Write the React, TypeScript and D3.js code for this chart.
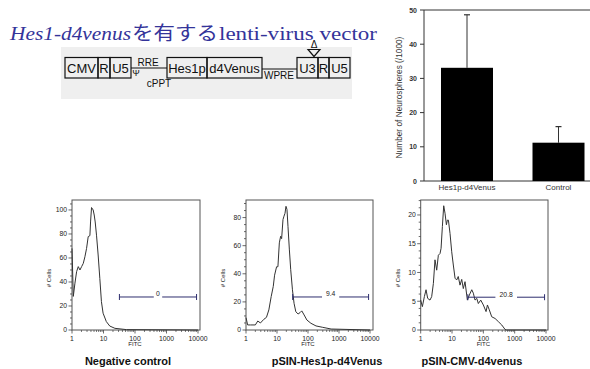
import React, { useRef, useEffect } from 'react';
import * as d3 from 'd3';

const W = 590;
const H = 369;

// neurosphere bar chart
const barCategories = ['Hes1p-d4Venus', 'Control'];
const barMeans = [33.1, 11.2];
const barErrors = [15.5, 4.7];
const barTicks = [0, 10, 20, 30, 40, 50];

// vector map
const vectorLeft = ['CMV', 'R', 'U5'];
const vectorMiddle = ['Hes1p', 'd4Venus'];
const vectorRight = ['U3', 'R', 'U5'];

// flow cytometry histograms
const panelTitles = ['Negative control', 'pSIN-Hes1p-d4Venus', 'pSIN-CMV-d4venus'];
const gateLabels = ['0', '9.4', '20.8'];
const gateLevels = [27.5, 23.5, 5.7];
const gateRange = [32, 9000];
const fitcTicks = [1, 10, 100, 1000, 10000];
const yTicksNeg = [0, 20, 40, 60, 80, 100];
const yTicksHes = [0, 20, 40, 60, 80];
const yTicksCmv = [0, 5, 10, 15, 20];

const negFitc = [1, 1.1, 1.24, 1.4, 1.58, 1.79, 2.02, 2.28, 2.57, 2.9, 3.27, 3.7, 3.88, 4.17, 4.7, 5.07, 5.45, 6.0, 6.76, 7.64, 8.6, 9.7, 12.3, 15.8, 23, 54, 10000];
const negCounts = [68, 28, 39, 48.6, 52.8, 50, 52.8, 55.5, 61, 68, 77.8, 78.6, 90, 102, 100, 95.8, 90, 79, 62.5, 43, 23.6, 14, 7, 3.3, 1.4, 0.3, 0];

const hesFitc = [1, 1.13, 1.38, 2.0, 2.4, 2.92, 3.76, 4.57, 5.46, 6.5, 7.57, 8.36, 9.7, 10.7, 11.9, 13.1, 14.1, 15.6, 16.8, 18.1, 19.5, 21, 22.6, 25.1, 27.7, 31.5, 35.5, 40.4, 47.9, 55.6, 63, 75, 92, 124, 181, 299, 557, 10000];
const hesCounts = [8.8, 3.6, 3.6, 3.6, 6.4, 5, 7.6, 9, 14.3, 23.8, 31, 39, 45, 45, 62, 66.7, 65, 78.6, 81, 83, 88, 85.7, 73.8, 57, 42.9, 28.6, 19, 13, 11.4, 12.4, 13.6, 10.7, 7.1, 4.8, 2.9, 1.9, 0.7, 0];

const cmvFitc = [1, 1.13, 1.31, 1.48, 1.67, 1.98, 2.24, 2.54, 2.86, 3.24, 3.66, 4.14, 4.47, 4.92, 5.43, 5.98, 6.61, 7.11, 7.66, 8.63, 9.77, 11.0, 12.5, 14.1, 15.8, 18.0, 20.4, 22.9, 26.0, 30.9, 35.8, 42.7, 47.9, 54.3, 61.7, 69.2, 82.6, 100, 122, 135, 155, 185, 237, 302, 387, 493, 558, 10000];
const cmvCounts = [5.2, 4.06, 5.8, 7, 5.5, 5.2, 5.8, 8.1, 12.2, 10.4, 13, 13.3, 14.2, 18, 21.6, 20.3, 18.3, 19.1, 19.1, 16.8, 13.6, 11.3, 9, 8.7, 9.3, 7.8, 8.8, 7.2, 8.4, 5.2, 6.1, 7, 6.4, 5.2, 5.5, 4.6, 5.2, 4.35, 3.2, 4.35, 3.5, 2.3, 2.0, 1.45, 0.87, 0.1, 0, 0];

const histLayout = [
  { left: 72, right: 198, frameRight: 200, yMax: 108.3, ticks: yTicksNeg, fitc: negFitc, counts: negCounts, titleX: 128 },
  { left: 246, right: 370, frameRight: 373, yMax: 92.5, ticks: yTicksHes, fitc: hesFitc, counts: hesCounts, titleX: 327 },
  { left: 420.7, right: 546, frameRight: 548, yMax: 22.6, ticks: yTicksCmv, fitc: cmvFitc, counts: cmvCounts, titleX: 472 },
];

const sans = 'Liberation Sans, Arial, sans-serif';

const App: React.FC = () => {
  const svgRef = useRef<SVGSVGElement | null>(null);

  useEffect(() => {
    if (!svgRef.current) return;
    const svg = d3.select(svgRef.current);
    svg.selectAll('*').remove();

    svg.append('rect').attr('width', W).attr('height', H).attr('fill', '#fff');

    // ---- title ----
    const titleColor = '#34349a';
    const title = svg.append('g').attr('fill', titleColor);
    title.append('text').attr('x', 10).attr('y', 39.5)
      .attr('font-family', 'Liberation Serif, serif').attr('font-style', 'italic').attr('font-size', 18)
      .attr('textLength', 121).attr('lengthAdjust', 'spacingAndGlyphs').text('Hes1-d4venus');
    title.append('text').attr('x', 132).attr('y', 40)
      .attr('font-family', 'Noto Sans CJK JP, sans-serif').attr('font-size', 19)
      .attr('textLength', 86).attr('lengthAdjust', 'spacingAndGlyphs').text('を有する');
    title.append('text').attr('x', 219).attr('y', 39.5)
      .attr('font-family', 'Liberation Serif, serif').attr('font-size', 18)
      .attr('textLength', 158).attr('lengthAdjust', 'spacingAndGlyphs').text('lenti-virus vector');

    // ---- vector map ----
    const vec = svg.append('g');
    vec.append('rect').attr('x', 61).attr('y', 47).attr('width', 291).attr('height', 52).attr('fill', '#efefef');
    const boxTop = 57.5;
    const boxH = 20.5;
    const lineY = 68;
    const drawBoxes = (labels: string[], edges: number[]) => {
      labels.forEach((lab, i) => {
        const x0 = edges[i];
        const x1 = edges[i + 1];
        vec.append('rect').attr('x', x0).attr('y', boxTop).attr('width', x1 - x0).attr('height', boxH)
          .attr('fill', 'none').attr('stroke', '#111').attr('stroke-width', 1.2);
        vec.append('text').attr('x', (x0 + x1) / 2).attr('y', boxTop + 15.2)
          .attr('text-anchor', 'middle').attr('font-family', sans).attr('font-size', 13)
          .attr('fill', '#111').text(lab);
      });
    };
    drawBoxes(vectorLeft, [65, 98, 110, 131]);
    drawBoxes(vectorMiddle, [167, 207, 262]);
    drawBoxes(vectorRight, [297, 318, 329, 350]);
    vec.append('line').attr('x1', 131).attr('x2', 167).attr('y1', lineY).attr('y2', lineY).attr('stroke', '#111').attr('stroke-width', 1.2);
    vec.append('line').attr('x1', 262).attr('x2', 297).attr('y1', lineY + 1).attr('y2', lineY + 1).attr('stroke', '#111').attr('stroke-width', 1.2);
    const small = (t: string, x: number, y: number, fs = 10) =>
      vec.append('text').attr('x', x).attr('y', y).attr('text-anchor', 'middle')
        .attr('font-family', sans).attr('font-size', fs).attr('fill', '#111').text(t);
    small('RRE', 148, 65.5);
    small('Ψ', 136, 76, 9);
    small('cPPT', 159, 87);
    small('WPRE', 279, 78.5);
    small('Δ', 314, 47.5, 10);
    vec.append('path').attr('d', 'M308,49.5 L320,49.5 L314,56.5 Z')
      .attr('fill', 'none').attr('stroke', '#111').attr('stroke-width', 1.2);

    // ---- bar chart ----
    const bx0 = 424;
    const by = d3.scaleLinear().domain([0, 50]).range([181, 10]);
    const bx = d3.scalePoint<string>().domain(barCategories).range([467, 558.5]);
    const barW = 52;
    const bar = svg.append('g').attr('font-family', sans).attr('fill', '#333');
    bar.append('line').attr('x1', bx0).attr('x2', W).attr('y1', by(50)).attr('y2', by(50)).attr('stroke', '#333');
    bar.append('line').attr('x1', bx0).attr('x2', W).attr('y1', by(0)).attr('y2', by(0)).attr('stroke', '#333');
    bar.append('line').attr('x1', bx0).attr('x2', bx0).attr('y1', by(0)).attr('y2', by(50)).attr('stroke', '#333');
    barTicks.forEach(t => {
      bar.append('line').attr('x1', bx0 - 4).attr('x2', bx0).attr('y1', by(t)).attr('y2', by(t)).attr('stroke', '#333');
      bar.append('text').attr('x', bx0 - 7).attr('y', by(t) + 2.5).attr('text-anchor', 'end')
        .attr('font-size', 7).attr('font-weight', 'bold').text(t);
    });
    barCategories.forEach((c, i) => {
      const cx = bx(c)!;
      const top = by(barMeans[i] + barErrors[i]);
      bar.append('line').attr('x1', cx).attr('x2', cx).attr('y1', by(barMeans[i])).attr('y2', top).attr('stroke', '#333');
      bar.append('line').attr('x1', cx - 3).attr('x2', cx + 3).attr('y1', top).attr('y2', top).attr('stroke', '#333').attr('stroke-width', 1.2);
      bar.append('rect').attr('x', cx - barW / 2).attr('y', by(barMeans[i])).attr('width', barW)
        .attr('height', by(0) - by(barMeans[i])).attr('fill', '#000');
      bar.append('text').attr('x', cx).attr('y', 190).attr('text-anchor', 'middle').attr('font-size', 8).text(c);
    });
    bar.append('text').attr('transform', `translate(402,${(by(0) + by(50)) / 2 + 2}) rotate(-90)`)
      .attr('text-anchor', 'middle').attr('font-size', 8.3).text('Number of Neurospheres (/1000)');

    // ---- histograms ----
    const hBottom = 330;
    const hTop = 200;
    histLayout.forEach((p, i) => {
      const g = svg.append('g').attr('font-family', sans).attr('fill', '#222');
      const x = d3.scaleLog().domain([1, 10000]).range([p.left, p.right]);
      const y = d3.scaleLinear().domain([0, p.yMax]).range([hBottom, hTop]);

      g.append('rect').attr('x', p.left).attr('y', hTop).attr('width', p.frameRight - p.left).attr('height', hBottom - hTop)
        .attr('fill', 'none').attr('stroke', '#555').attr('stroke-width', 1);

      // y ticks
      const step = p.ticks[1] - p.ticks[0];
      for (let v = 0; v <= p.yMax; v += step / 4) {
        const major = Math.abs(v / step - Math.round(v / step)) < 1e-6;
        g.append('line').attr('x1', p.left - (major ? 3.5 : 2)).attr('x2', p.left).attr('y1', y(v)).attr('y2', y(v)).attr('stroke', '#444').attr('stroke-width', 0.8);
      }
      p.ticks.forEach(t => {
        g.append('text').attr('x', p.left - 5).attr('y', y(t) + 2.3).attr('text-anchor', 'end').attr('font-size', 6.8).text(t);
      });

      // x ticks
      fitcTicks.forEach((t, k) => {
        g.append('line').attr('x1', x(t)).attr('x2', x(t)).attr('y1', hBottom).attr('y2', hBottom + 3.5).attr('stroke', '#444').attr('stroke-width', 0.8);
        g.append('text').attr('x', x(t)).attr('y', hBottom + 11).attr('text-anchor', 'middle').attr('font-size', 6.8).text(t);
        if (k < fitcTicks.length - 1) {
          for (let m = 2; m <= 9; m++) {
            g.append('line').attr('x1', x(t * m)).attr('x2', x(t * m)).attr('y1', hBottom).attr('y2', hBottom + 2).attr('stroke', '#444').attr('stroke-width', 0.7);
          }
        }
      });
      g.append('text').attr('x', x(100)).attr('y', hBottom + 16).attr('text-anchor', 'middle').attr('font-size', 6).text('FITC');
      g.append('text').attr('transform', `translate(${p.left - 21},278) rotate(-90)`)
        .attr('text-anchor', 'middle').attr('font-size', 6).text('# Cells');

      // histogram line
      const pts = p.fitc.map((f, k) => [f, p.counts[k]] as [number, number]);
      g.append('path').datum(pts)
        .attr('d', d3.line<[number, number]>().x(d => x(d[0])).y(d => y(d[1])))
        .attr('fill', 'none').attr('stroke', '#333').attr('stroke-width', 1);

      // gate marker
      const gy = y(gateLevels[i]);
      const gx0 = x(gateRange[0]);
      const gx1 = x(gateRange[1]);
      const gm = (gx0 + gx1) / 2;
      const gap = gateLabels[i].length * 2.2 + 2;
      const gateColor = '#2e2e6e';
      g.append('line').attr('x1', gx0).attr('x2', gm - gap).attr('y1', gy).attr('y2', gy).attr('stroke', gateColor);
      g.append('line').attr('x1', gm + gap).attr('x2', gx1).attr('y1', gy).attr('y2', gy).attr('stroke', gateColor);
      [gx0, gx1].forEach(gx => {
        g.append('line').attr('x1', gx).attr('x2', gx).attr('y1', gy - 3).attr('y2', gy + 3).attr('stroke', gateColor);
      });
      g.append('text').attr('x', gm).attr('y', gy - 0.5).attr('text-anchor', 'middle').attr('font-size', 6.8).text(gateLabels[i]);

      // panel title
      g.append('text').attr('x', p.titleX).attr('y', 365).attr('text-anchor', 'middle')
        .attr('font-size', 11).attr('font-weight', 'bold').attr('fill', '#111').text(panelTitles[i]);
    });
  }, []);

  return (
    <svg ref={svgRef} width={W} height={H}
      style={{ position: 'absolute', left: 0, top: 0, display: 'block' }} />
  );
};

export default App;
